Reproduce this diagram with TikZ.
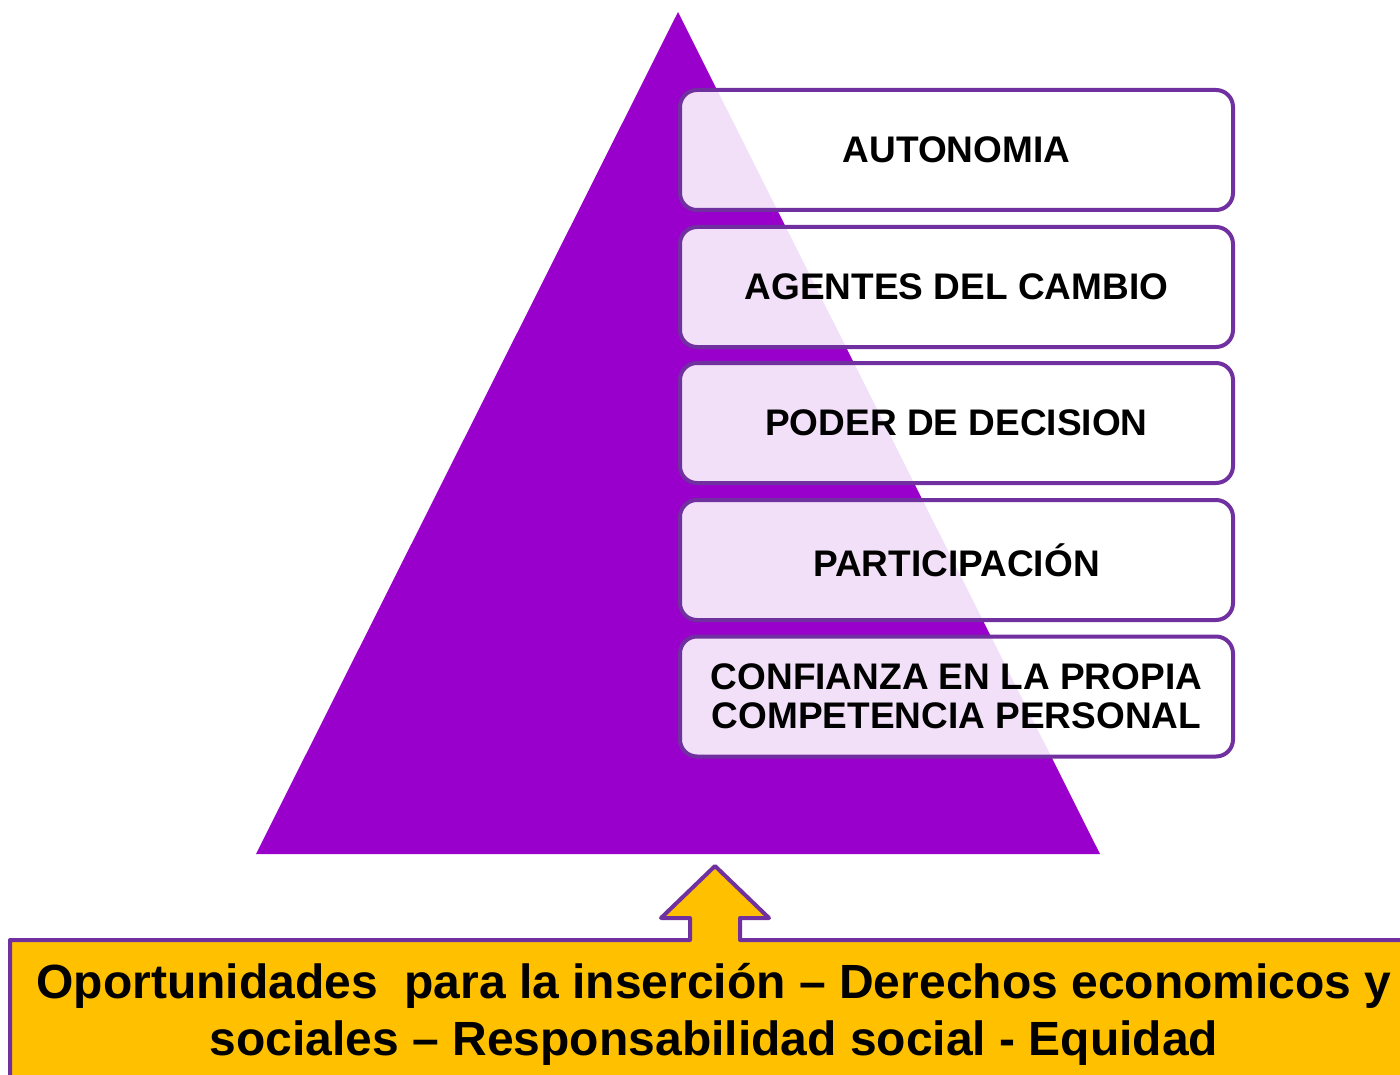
\documentclass[tikz,border=0pt]{standalone}
\usepackage{fontspec}
\setmainfont{Liberation Sans}
\definecolor{tri}{HTML}{9900CC}
\definecolor{edge}{HTML}{7030A0}
\definecolor{gold}{HTML}{FFC000}
\begin{document}
\begin{tikzpicture}[x=1pt,y=-1pt,
  level/.style={draw=edge, line width=4pt, rounded corners=17pt, fill=white, fill opacity=0.88, text opacity=1,
    minimum width=553pt, minimum height=120pt, inner sep=0pt, align=center,
    font=\fontsize{37}{38.5}\selectfont\bfseries},
  base/.style={align=center, inner sep=0pt, font=\fontsize{48}{57}\selectfont\bfseries}]
\useasboundingbox (0,0) rectangle (1400,1075);
% pyramid
\fill[tri] (678,12) -- (1100,854) -- (256,854) -- cycle;
% levels
\node[level] (l1) at (956.5,150) {AUTONOMIA};
\node[level] (l2) at (956.5,287) {AGENTES DEL CAMBIO};
\node[level] (l3) at (956.5,423) {PODER DE DECISION};
\node[level] (l4) at (956.5,560) {PARTICIPACIÓN};
\node[level] (l5) at (956.5,696.5) {CONFIANZA EN LA PROPIA\\COMPETENCIA PERSONAL};
% base box with arrow
\filldraw[fill=gold, draw=edge, line width=4pt, line join=round]
  (10,1090) -- (10,940) -- (690,940) -- (690,918) -- (661,918) -- (715,866)
  -- (769,918) -- (740,918) -- (740,940) -- (1420,940) -- (1420,1090);
\node[base] (b) at (714,1014) {Oportunidades\ \ para la inserción – Derechos economicos y\\sociales – Responsabilidad social - Equidad};
\end{tikzpicture}
\end{document}
